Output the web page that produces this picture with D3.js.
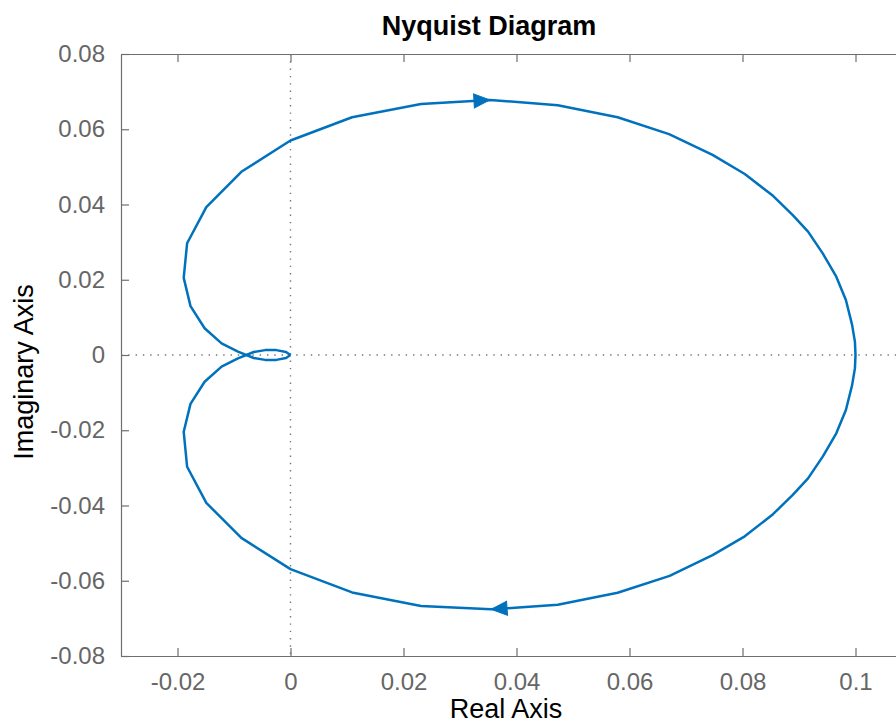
<!DOCTYPE html>
<html>
<head>
<meta charset="utf-8">
<script src="https://cdn.jsdelivr.net/npm/d3@7"></script>
<style>
    body { margin: 0; background: #fff; }
    svg text { font-family: "Liberation Sans", Arial, Helvetica, sans-serif; }
</style>
</head>
<body>
<div id="chart"></div>
<script>
// tick values
const realTicks = [-0.02, 0, 0.02, 0.04, 0.06, 0.08, 0.1];
const imagTicks = [-0.08, -0.06, -0.04, -0.02, 0, 0.02, 0.04, 0.06, 0.08];

// negative frequencies: origin -> upper half -> (0.1, 0)
const negRe = [0, -0.0008, -0.0025, -0.0045, -0.0065, -0.0093, -0.0122, -0.0152, -0.0177, -0.0189, -0.0183, -0.0149, -0.0087, 0.0,
    0.0109, 0.0231, 0.0353, 0.0473, 0.0579, 0.0670, 0.0747, 0.0804, 0.0854, 0.0889, 0.0916, 0.0942, 0.0966, 0.0983, 0.0994, 0.0999, 0.1];
const negIm = [0, -0.0008, -0.0013, -0.0013, -0.0008, 0.0009, 0.0031, 0.0071, 0.0130, 0.0205, 0.0297, 0.0393, 0.0487, 0.0570,
    0.0632, 0.0667, 0.0678, 0.0664, 0.0632, 0.0587, 0.0532, 0.0481, 0.0423, 0.0372, 0.0328, 0.0270, 0.0208, 0.0146, 0.0080, 0.0035, 0];

// positive frequencies: (0.1, 0) -> lower half -> origin
const posRe = [0.1, 0.0999, 0.0994, 0.0983, 0.0966, 0.0942, 0.0916, 0.0889, 0.0854, 0.0804, 0.0747, 0.0671, 0.0579, 0.0473, 0.0355,
    0.0231, 0.0109, 0.0, -0.0087, -0.0149, -0.0183, -0.0189, -0.0177, -0.0152, -0.0122, -0.0093, -0.0065, -0.0045, -0.0025, -0.0008, 0];
const posIm = [0, -0.0035, -0.0080, -0.0146, -0.0208, -0.0270, -0.0328, -0.0372, -0.0423, -0.0482, -0.0532, -0.0587, -0.0632, -0.0664, -0.0676,
    -0.0667, -0.0631, -0.0569, -0.0486, -0.0393, -0.0297, -0.0204, -0.0130, -0.0071, -0.0031, -0.0009, 0.0008, 0.0013, 0.0013, 0.0008, 0];

// vertex index of the direction arrow on each branch
const negArrowIdx = 16;
const posArrowIdx = 14;

class NyquistVis {
    constructor(_parentElement) {
        this.parentElement = _parentElement;
        this.initVis();
    }

    initVis() {
        const vis = this;

        vis.margin = { top: 54, left: 121 };
        vis.width = 0.15 * 5650;   // plot box runs past the window on the right
        vis.height = 602;

        vis.svg = d3.select(`#${vis.parentElement}`)
            .append("svg")
            .attr("width", 896)
            .attr("height", 724)
            .append("g")
            .attr("transform", `translate(${vis.margin.left},${vis.margin.top})`);

        vis.xScale = d3.scaleLinear().domain([-0.03, 0.12]).range([0, vis.width]);
        vis.yScale = d3.scaleLinear().domain([-0.08, 0.08]).range([vis.height, 0]);

        const fmt = d => d === 0 ? "0" : String(+d.toFixed(2));

        // Axes (ticks point inward)
        vis.svg.append("g")
            .attr("class", "axis")
            .attr("transform", `translate(0,${vis.height})`)
            .call(d3.axisBottom(vis.xScale).tickValues(realTicks).tickFormat(fmt)
                .tickSizeInner(-8).tickSizeOuter(0).tickPadding(17));

        vis.svg.append("g")
            .attr("class", "axis")
            .call(d3.axisTop(vis.xScale).tickValues(realTicks).tickFormat("")
                .tickSizeInner(-8).tickSizeOuter(0));

        vis.svg.append("g")
            .attr("class", "axis")
            .call(d3.axisLeft(vis.yScale).tickValues(imagTicks).tickFormat(fmt)
                .tickSizeInner(-8).tickSizeOuter(0).tickPadding(16));

        vis.svg.selectAll(".axis path, .axis line")
            .attr("stroke", "#6e6e6e")
            .attr("stroke-width", 1.2);
        vis.svg.selectAll(".axis text")
            .attr("fill", "#666")
            .style("font-size", "24px");

        // Dotted zero lines
        vis.svg.append("line")
            .attr("x1", 0).attr("x2", vis.width)
            .attr("y1", vis.yScale(0)).attr("y2", vis.yScale(0))
            .attr("stroke", "#777").attr("stroke-width", 1.4)
            .attr("stroke-dasharray", "1.4,5.9");
        vis.svg.append("line")
            .attr("x1", vis.xScale(0)).attr("x2", vis.xScale(0))
            .attr("y1", 0).attr("y2", vis.height)
            .attr("stroke", "#777").attr("stroke-width", 1.4)
            .attr("stroke-dasharray", "1.4,5.9");

        // Labels
        vis.svg.append("text")
            .attr("text-anchor", "middle")
            .attr("x", 489 - vis.margin.left)
            .attr("y", 35 - vis.margin.top)
            .style("font-size", "27px")
            .style("font-weight", "bold")
            .text("Nyquist Diagram");

        vis.svg.append("text")
            .attr("text-anchor", "middle")
            .attr("x", 506 - vis.margin.left)
            .attr("y", 718 - vis.margin.top)
            .style("font-size", "27px")
            .text("Real Axis");

        vis.svg.append("text")
            .attr("text-anchor", "middle")
            .attr("transform", "rotate(-90)")
            .attr("x", -(372 - vis.margin.top))
            .attr("y", 33 - vis.margin.left)
            .style("font-size", "27px")
            .text("Imaginary Axis");

        vis.updateVis();
    }

    updateVis() {
        const vis = this;

        const branches = [
            { re: negRe, im: negIm, arrow: negArrowIdx },
            { re: posRe, im: posIm, arrow: posArrowIdx }
        ];

        const line = d3.line()
            .x(d => vis.xScale(d[0]))
            .y(d => vis.yScale(d[1]));

        branches.forEach(b => {
            const pts = b.re.map((r, i) => [r, b.im[i]]);

            vis.svg.append("path")
                .attr("d", line(pts))
                .attr("fill", "none")
                .attr("stroke", "#0072bd")
                .attr("stroke-width", 2.5)
                .attr("stroke-linejoin", "round");

            // arrow head along travel direction
            const p0 = pts[b.arrow - 1], p1 = pts[b.arrow];
            const x0 = vis.xScale(p0[0]), y0 = vis.yScale(p0[1]);
            const x1 = vis.xScale(p1[0]), y1 = vis.yScale(p1[1]);
            const ang = Math.atan2(y1 - y0, x1 - x0) * 180 / Math.PI;

            vis.svg.append("path")
                .attr("d", "M0,0L-16,-7L-16,7Z")
                .attr("transform", `translate(${x1},${y1}) rotate(${ang})`)
                .attr("fill", "#0072bd")
                .attr("stroke", "#0072bd")
                .attr("stroke-width", 1);
        });
    }
}

new NyquistVis("chart");
</script>
</body>
</html>
